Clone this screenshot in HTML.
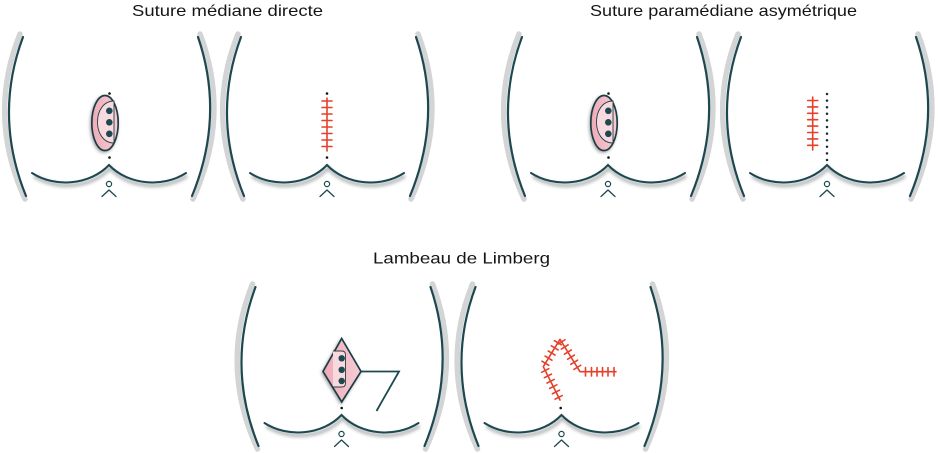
<!DOCTYPE html>
<html>
<head>
<meta charset="utf-8">
<style>
html,body{margin:0;padding:0;background:#fff;}
svg{display:block;}
text{font-family:"Liberation Sans",sans-serif;font-size:16px;fill:#151515;}
</style>
</head>
<body>
<svg width="938" height="453" viewBox="0 0 938 453" xmlns="http://www.w3.org/2000/svg">
<defs>
  <filter id="blur" x="-20%" y="-50%" width="140%" height="200%">
    <feGaussianBlur stdDeviation="1.6"/>
  </filter>
  <filter id="sh" x="-50%" y="-50%" width="200%" height="200%">
    <feGaussianBlur in="SourceAlpha" stdDeviation="1.6"/>
    <feOffset dx="-1" dy="1.5" result="o"/>
    <feComponentTransfer><feFuncA type="linear" slope="0.35"/></feComponentTransfer>
    <feMerge><feMergeNode/><feMergeNode in="SourceGraphic"/></feMerge>
  </filter>
  <linearGradient id="pink" x1="0" y1="0" x2="1" y2="0">
    <stop offset="0" stop-color="#eeaab7"/>
    <stop offset="1" stop-color="#f6cdd4"/>
  </linearGradient>
  <g id="base">
    <!-- left bracket -->
    <path d="M20,34 Q-13,116 25,199" fill="none" stroke="#d3d4d5" stroke-width="5.5" stroke-linecap="round"/>
    <path d="M23,37 Q-6.5,116 26,196" fill="none" stroke="#1d4850" stroke-width="2.2" stroke-linecap="round"/>
    <!-- right bracket -->
    <path d="M200,34 Q231,116 193,199" fill="none" stroke="#d3d4d5" stroke-width="5.5" stroke-linecap="round"/>
    <path d="M198,37 Q225,116 192,196" fill="none" stroke="#1d4850" stroke-width="2.2" stroke-linecap="round"/>
    <!-- curve shadow -->
    <path d="M34,176 C57,191 92,188 110,168 C128,188 163,191 187,176" fill="none" stroke="#9fa3a5" stroke-width="3.5" filter="url(#blur)" opacity="0.8"/>
    <!-- curve -->
    <path d="M32,173 C55,188 90,185 109,165 C128,185 163,188 186,173" fill="none" stroke="#1d4850" stroke-width="2" stroke-linecap="round" stroke-linejoin="miter"/>
    <!-- anus -->
    <circle cx="109" cy="184" r="2.6" fill="#fff" stroke="#1d4850" stroke-width="1.2"/>
    <path d="M102,196.5 L109,190 L116,196.5" fill="none" stroke="#1d4850" stroke-width="1.3" stroke-linejoin="round" stroke-linecap="round"/>
  </g>
  <g id="ellipse">
    <ellipse cx="105" cy="123" rx="13.2" ry="27.5" fill="url(#pink)" stroke="#1d3d44" stroke-width="1.7" filter="url(#sh)"/>
    <path d="M114,101 C92,101 92,143 114,143 Z" fill="#f8d9de" stroke="#2a3f45" stroke-width="0.9"/>
    <circle cx="109.3" cy="110.8" r="3.3" fill="#1d4850"/>
    <circle cx="109.3" cy="122.3" r="3.3" fill="#1d4850"/>
    <circle cx="109.3" cy="133.8" r="3.3" fill="#1d4850"/>
    <circle cx="109.5" cy="93.5" r="1.3" fill="#111"/>
    <circle cx="109.5" cy="157.5" r="1.3" fill="#111"/>
  </g>
</defs>

<!-- Titles -->
<text x="132" y="16" textLength="191" lengthAdjust="spacingAndGlyphs">Suture médiane directe</text>
<text x="590" y="16" textLength="267" lengthAdjust="spacingAndGlyphs">Suture paramédiane asymétrique</text>
<text x="373" y="263.5" textLength="177" lengthAdjust="spacingAndGlyphs">Lambeau de Limberg</text>

<!-- Panel 1 -->
<use href="#base"/>
<use href="#ellipse"/>

<!-- Panel 2 -->
<use href="#base" transform="translate(218,0)"/>
<g stroke="#e5412b" stroke-width="1.6" stroke-linecap="round">
  <line x1="327" y1="98" x2="327" y2="151"/>
  <line x1="322" y1="101" x2="332" y2="101"/>
  <line x1="322" y1="107.5" x2="332" y2="107.5"/>
  <line x1="322" y1="114" x2="332" y2="114"/>
  <line x1="322" y1="120.5" x2="332" y2="120.5"/>
  <line x1="322" y1="127" x2="332" y2="127"/>
  <line x1="322" y1="133.5" x2="332" y2="133.5"/>
  <line x1="322" y1="140" x2="332" y2="140"/>
  <line x1="322" y1="146.5" x2="332" y2="146.5"/>
</g>
<circle cx="327" cy="93.5" r="1.3" fill="#111"/>
<circle cx="327" cy="157.5" r="1.3" fill="#111"/>

<!-- Panel 3 -->
<use href="#base" transform="translate(499,0)"/>
<use href="#ellipse" transform="translate(499,0)"/>

<!-- Panel 4 -->
<use href="#base" transform="translate(718,0)"/>
<g stroke="#e5412b" stroke-width="1.6" stroke-linecap="round">
  <line x1="812.7" y1="97" x2="812.7" y2="150"/>
  <line x1="807.7" y1="100.5" x2="817.7" y2="100.5"/>
  <line x1="807.7" y1="106.9" x2="817.7" y2="106.9"/>
  <line x1="807.7" y1="113.3" x2="817.7" y2="113.3"/>
  <line x1="807.7" y1="119.7" x2="817.7" y2="119.7"/>
  <line x1="807.7" y1="126.1" x2="817.7" y2="126.1"/>
  <line x1="807.7" y1="132.5" x2="817.7" y2="132.5"/>
  <line x1="807.7" y1="138.9" x2="817.7" y2="138.9"/>
  <line x1="807.7" y1="145.3" x2="817.7" y2="145.3"/>
</g>
<g fill="#1b2e33">
  <circle cx="827" cy="94" r="1.25"/>
  <circle cx="827" cy="100.6" r="1.25"/>
  <circle cx="827" cy="107.2" r="1.25"/>
  <circle cx="827" cy="113.8" r="1.25"/>
  <circle cx="827" cy="120.4" r="1.25"/>
  <circle cx="827" cy="127" r="1.25"/>
  <circle cx="827" cy="133.6" r="1.25"/>
  <circle cx="827" cy="140.2" r="1.25"/>
  <circle cx="827" cy="146.8" r="1.25"/>
  <circle cx="827" cy="153.4" r="1.25"/>
  <circle cx="827" cy="160" r="1.25"/>
</g>

<!-- Panel 5 -->
<use href="#base" transform="translate(232.5,250)"/>
<polygon points="341.7,338.5 361,371.5 341.7,402 323,371.5" fill="url(#pink)" stroke="#1d3d44" stroke-width="1.7" stroke-linejoin="miter" filter="url(#sh)"/>
<path d="M333,351 L342,351 Q345.5,351 345.5,355 L345.5,383 Q345.5,387 342,387 L333,387" fill="#f8d9de" stroke="#2a3f45" stroke-width="0.9"/>
<circle cx="341.7" cy="358.3" r="3.2" fill="#1d4850"/>
<circle cx="341.7" cy="369.8" r="3.2" fill="#1d4850"/>
<circle cx="341.7" cy="381" r="3.2" fill="#1d4850"/>
<circle cx="341.7" cy="408" r="1.3" fill="#111"/>
<polyline points="361,371.5 399,371.5 376.5,411" fill="none" stroke="#1d4850" stroke-width="1.8" stroke-linejoin="miter"/>

<!-- Panel 6 -->
<use href="#base" transform="translate(452.5,250)"/>
<circle cx="560.7" cy="408" r="1.3" fill="#111"/>
<g stroke="#e5412b" stroke-width="1.6" stroke-linecap="round" fill="none">
  <polyline points="560,400 543.3,366.7 560,339.3 580,371.7 616,371.7" stroke-linejoin="round"/>
  <!-- seg A -->
  <line x1="555.09" y1="399.11" x2="562.23" y2="395.53"/>
  <line x1="552.40" y1="393.75" x2="559.54" y2="390.17"/>
  <line x1="549.71" y1="388.39" x2="556.85" y2="384.81"/>
  <line x1="547.02" y1="383.04" x2="554.16" y2="379.46"/>
  <line x1="544.33" y1="377.68" x2="551.47" y2="374.10"/>
  <line x1="541.63" y1="372.29" x2="548.77" y2="368.71"/>
  <!-- seg B -->
  <line x1="541.96" y1="361.20" x2="548.80" y2="365.36"/>
  <line x1="545.08" y1="356.08" x2="551.92" y2="360.24"/>
  <line x1="548.20" y1="350.96" x2="555.04" y2="355.12"/>
  <line x1="551.32" y1="345.83" x2="558.16" y2="349.99"/>
  <line x1="554.44" y1="340.71" x2="561.28" y2="344.87"/>
  <!-- seg C -->
  <line x1="558.18" y1="343.95" x2="564.98" y2="339.75"/>
  <line x1="561.33" y1="349.05" x2="568.13" y2="344.85"/>
  <line x1="564.48" y1="354.15" x2="571.28" y2="349.95"/>
  <line x1="567.63" y1="359.25" x2="574.43" y2="355.05"/>
  <line x1="570.78" y1="364.35" x2="577.58" y2="360.15"/>
  <line x1="573.93" y1="369.45" x2="580.73" y2="365.25"/>
  <!-- seg D -->
  <line x1="585.5" y1="367.5" x2="585.5" y2="376"/>
  <line x1="591.5" y1="367.5" x2="591.5" y2="376"/>
  <line x1="597" y1="367.5" x2="597" y2="376"/>
  <line x1="602.5" y1="367.5" x2="602.5" y2="376"/>
  <line x1="608" y1="367.5" x2="608" y2="376"/>
  <line x1="614" y1="367.5" x2="614" y2="376"/>
</g>
</svg>
</body>
</html>
